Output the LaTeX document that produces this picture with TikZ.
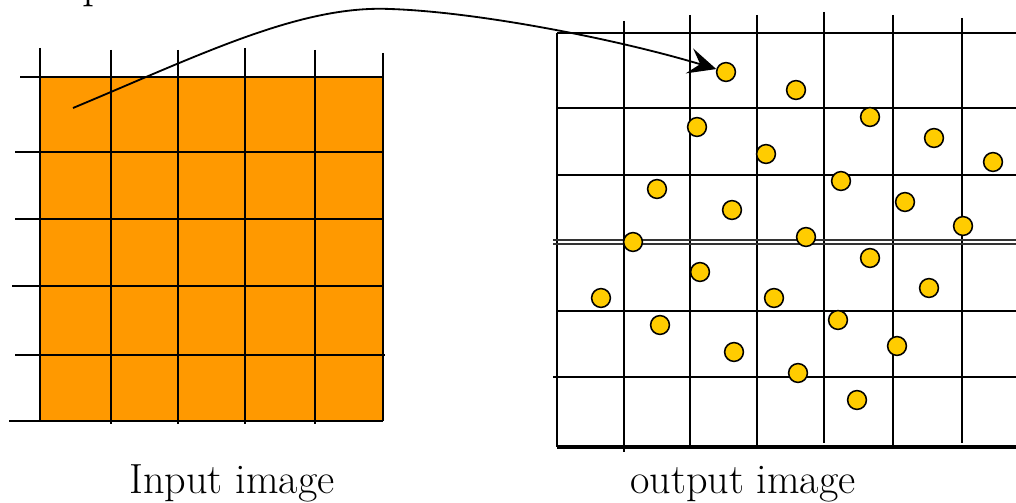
\documentclass[tikz,border=0pt]{standalone}
\usepackage{tikz}
\usetikzlibrary{arrows.meta}
\usepackage{xcolor}
\definecolor{pix}{HTML}{FF9900}
\definecolor{smp}{HTML}{FFCC00}

\begin{document}
\begin{tikzpicture}[
        x=0.025cm, y=-0.025cm,
        gl/.style={black, line width=1.4pt},
        bd/.style={black, line width=2.2pt},
        pt/.style={circle, draw=black, fill=smp, line width=1.1pt,
                   minimum size=4.7mm, inner sep=0pt},
        lbl/.style={font=\fontsize{30}{36}\selectfont, anchor=base},
      ]
      \useasboundingbox (0,0) rectangle (1016,503);
      \clip (0,0) rectangle (1016,503);

      % Title line, cut off at the top
      \node[font=\fontsize{34}{40}\selectfont, anchor=base west] (ttl) at (-4,-2) {be operated.};

      % Input grid
      \fill[pix] (40,77) rectangle (383,421);
      \draw[gl] (40,48)--(40,421); \draw[gl] (111,50)--(111,424);
      \draw[gl] (178,50)--(178,424); \draw[gl] (245,48)--(245,424);
      \draw[gl] (315,50)--(315,424); \draw[gl] (383,53)--(383,421);
      \draw[gl] (20,77)--(383,77); \draw[gl] (15,152)--(383,152);
      \draw[gl] (15,219)--(383,219); \draw[gl] (12,286)--(383,286);
      \draw[gl] (15,355)--(385,355); \draw[gl] (9,421)--(383,421);
      \node[lbl] (lin) at (232,493) {Input image};

      % Output grid
      \draw[gl] (557,33)--(557,447); \draw[gl] (624,21)--(624,452);
      \draw[gl] (690,15)--(690,447); \draw[gl] (757,15)--(757,447);
      \draw[gl] (824,12)--(824,443); \draw[gl] (893,15)--(893,447);
      \draw[gl] (962,18)--(962,443);
      \draw[gl] (557,33)--(1016,33); \draw[gl] (557,108)--(1016,108);
      \draw[gl] (557,175)--(1016,175);
      \draw[black!80, line width=1pt] (553,240)--(1016,240);
      \draw[black!80, line width=1pt] (553,244)--(1016,244);
      \draw[gl] (557,311)--(1016,311); \draw[gl] (553,377)--(1016,377);
      \draw[bd] (557,447)--(1016,447);
      \node[lbl] (lout) at (743,493) {output image};

      % Sample positions
      \node[pt] (s1) at (726,72) {};  \node[pt] (s2) at (796,90) {};
      \node[pt] (s3) at (870,117) {}; \node[pt] (s4) at (934,138) {};
      \node[pt] (s5) at (993,162) {}; \node[pt] (s6) at (697,127) {};
      \node[pt] (s7) at (766,154) {}; \node[pt] (s8) at (841,181) {};
      \node[pt] (s9) at (905,202) {}; \node[pt] (s10) at (963,226) {};
      \node[pt] (s11) at (657,189) {}; \node[pt] (s12) at (732,210) {};
      \node[pt] (s13) at (806,237) {}; \node[pt] (s14) at (633,242) {};
      \node[pt] (s15) at (870,258) {}; \node[pt] (s16) at (700,272) {};
      \node[pt] (s17) at (929,288) {}; \node[pt] (s18) at (601,298) {};
      \node[pt] (s19) at (774,298) {}; \node[pt] (s20) at (838,320) {};
      \node[pt] (s21) at (660,325) {}; \node[pt] (s22) at (897,346) {};
      \node[pt] (s23) at (734,352) {}; \node[pt] (s24) at (798,373) {};
      \node[pt] (s25) at (857,400) {};

      % Mapping arrow
      \coordinate (src) at (73,108);
      \draw[black, line width=1.3pt, -{Stealth[length=7mm, width=6.5mm, inset=2.8mm]}]
        (src) .. controls (200,55) and (300,5) .. (390,9)
              .. controls (480,12) and (620,40) .. (s1);
      \end{tikzpicture}
\end{document}
